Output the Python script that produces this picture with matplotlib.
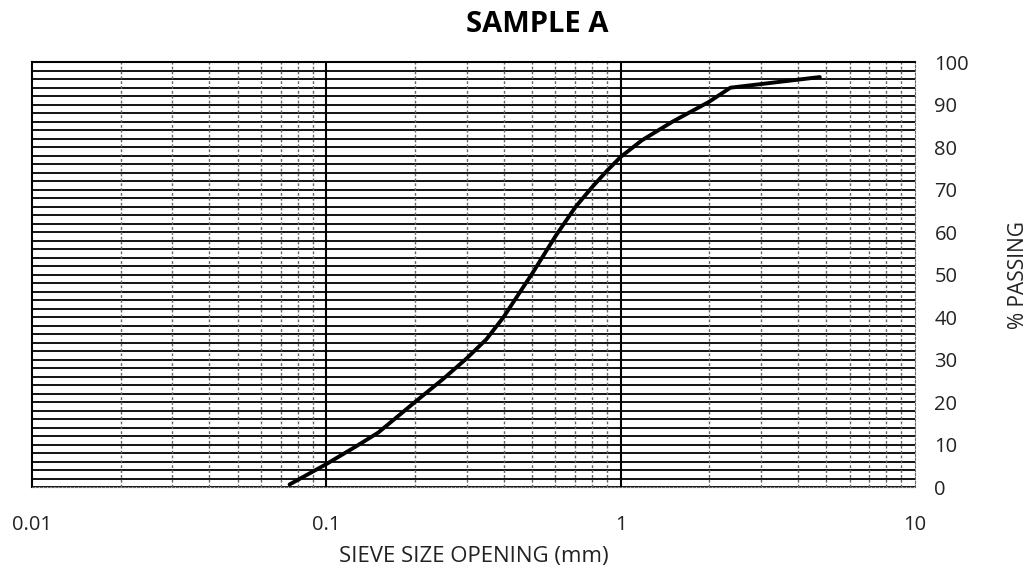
import matplotlib.pyplot as plt
import numpy as np

plt.rcParams['font.family'] = ['Open Sans', 'DejaVu Sans']

# sieve analysis, sample A
sieve_mm = [0.075, 0.1, 0.125, 0.15, 0.2, 0.25, 0.3, 0.35, 0.4, 0.45, 0.5, 0.6, 0.7, 0.8, 0.9, 1.0,
            1.18, 1.5, 2.0, 2.36, 4.75]
passing = [0.6, 5.4, 9.4, 12.8, 20.0, 25.5, 30.3, 34.8, 40.0, 45.4, 50.2, 59.0, 65.8, 70.6, 74.5, 77.7,
           81.6, 86.0, 90.7, 94.0, 96.5]

x_ticks = [0.01, 0.1, 1, 10]
x_tick_labels = ['0.01', '0.1', '1', '10']
y_ticks = list(range(0, 101, 10))

fig = plt.figure(figsize=(10.35, 5.76), dpi=100)
ax = fig.add_axes([0.031, 0.1545, 0.853, 0.7375])

ax.set_xscale('log')
ax.set_xlim(0.01, 10)
ax.set_ylim(0, 100)

# horizontal lines every 2 %
for y in np.arange(0, 101, 2):
    ax.axhline(y, color='black', lw=1.3, zorder=1)

# minor decade lines dashed grey, decades solid black
for dec in [0.01, 0.1, 1]:
    for m in range(2, 10):
        ax.axvline(dec * m, color='#666666', lw=1.0, ls=(0, (2, 1.5)), zorder=1)
for d in [0.1, 1]:
    ax.axvline(d, color='black', lw=1.5, zorder=2)

ax.plot(sieve_mm, passing, color='black', lw=2.8, solid_capstyle='round',
        solid_joinstyle='round', zorder=3)

for s in ['left', 'top']:
    ax.spines[s].set_color('black')
    ax.spines[s].set_linewidth(1.5)
ax.spines['right'].set_color('#666666')
ax.spines['right'].set_linestyle((0, (2, 1.5)))
ax.spines['bottom'].set_color('#666666')
ax.spines['bottom'].set_linestyle((0, (2, 1.5)))

ax.set_xticks(x_ticks)
ax.set_xticklabels(x_tick_labels)
ax.minorticks_off()
ax.yaxis.tick_right()
ax.set_yticks(y_ticks)
ax.tick_params(axis='both', length=0, labelsize=14.5, colors='#222222')
ax.tick_params(axis='x', pad=20)
ax.tick_params(axis='y', pad=14)

ax.set_xlabel('SIEVE SIZE OPENING (mm)', fontsize=16, labelpad=8, color='#222222')
ax.yaxis.set_label_position('right')
ax.set_ylabel('% PASSING', fontsize=15, labelpad=28, color='#222222')
fig.text(0.519, 0.958, 'SAMPLE A', fontsize=21, fontweight='bold', ha='center', va='center')

fig.savefig('out.png', dpi=100)
